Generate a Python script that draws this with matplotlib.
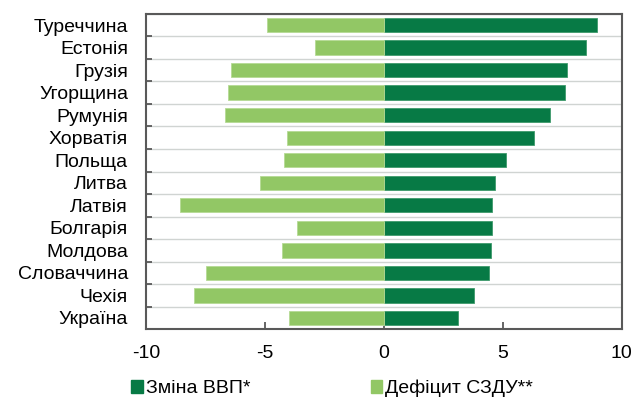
import numpy as np
import matplotlib
matplotlib.use("Agg")
import matplotlib.pyplot as plt
from matplotlib.patches import Patch

plt.rcParams['font.family'] = ['Liberation Sans', 'DejaVu Sans']

countries = ["Туреччина", "Естонія", "Грузія", "Угорщина", "Румунія", "Хорватія",
             "Польща", "Литва", "Латвія", "Болгарія", "Молдова", "Словаччина",
             "Чехія", "Україна"]
gdp_change = [8.95, 8.50, 7.70, 7.62, 7.00, 6.32, 5.13, 4.66, 4.54, 4.54, 4.50, 4.44, 3.79, 3.12]
deficit = [-4.90, -2.90, -6.44, -6.57, -6.66, -4.06, -4.21, -5.19, -8.57, -3.64, -4.30, -7.49, -8.00, -3.99]

dark = "#077a45"
light = "#92c765"
fs = 14

fig = plt.figure(figsize=(6.35, 3.97), dpi=100)
ax = fig.add_axes([0.23, 0.171, 0.749, 0.794])

y = np.arange(len(countries))
ax.barh(y, gdp_change, height=0.64, color=dark, edgecolor="#3f9a6c", linewidth=0.6, zorder=3)
ax.barh(y, deficit, height=0.64, color=light, edgecolor="#b5da95", linewidth=0.6, zorder=3)

ax.set_xlim(-10, 10)
ax.set_ylim(len(countries) - 0.5, -0.5)
ax.set_xticks([-10, -5, 0, 5, 10])
ax.set_xticklabels(["-10", "-5", "0", "5", "10"])
ax.set_yticks(y)
ax.set_yticklabels(countries)
ax.set_yticks(np.arange(len(countries) + 1) - 0.5, minor=True)

ax.tick_params(axis='y', which='major', length=0, pad=13, labelsize=fs)
ax.tick_params(axis='y', which='minor', direction='in', length=4, width=1.3, color="#595959")
ax.tick_params(axis='x', direction='in', length=5, width=1.3, color="#595959", pad=11.5, labelsize=fs)
ax.grid(axis='y', which='minor', color="#d0d4d2", linewidth=1.0, zorder=0)

for s in ax.spines.values():
    s.set_color("#595959")
    s.set_linewidth(1.5)

handles = [Patch(color=dark), Patch(color=light)]
fig.legend(handles, ["Зміна ВВП*", "Дефіцит СЗДУ**"], loc='lower left',
           bbox_to_anchor=(0.179, -0.045), ncol=2, frameon=False, fontsize=fs,
           handlelength=0.6, handleheight=0.6, handletextpad=0.15, columnspacing=6.2)

fig.savefig("out.png", dpi=100)
